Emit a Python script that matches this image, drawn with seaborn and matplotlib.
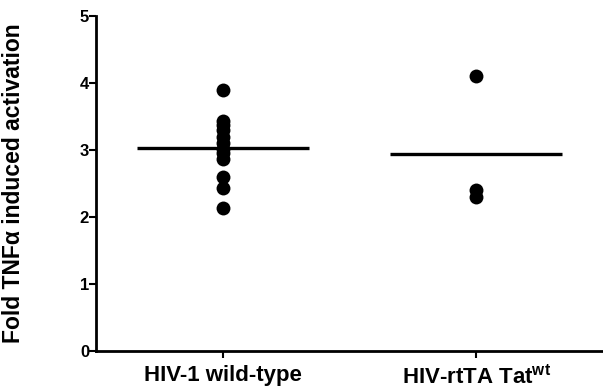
import matplotlib
matplotlib.use("Agg")
import matplotlib.pyplot as plt
import seaborn as sns
import pandas as pd
import numpy as np

categories = ["HIV-1 wild-type", "HIV-rtTA Tat$^{\\mathbf{wt}}$"]
wild_type = [3.90, 3.44, 3.38, 3.30, 3.20, 3.10, 3.02, 2.95, 2.87, 2.60, 2.44, 2.13]
rtta_tat = [4.10, 2.40, 2.30]
y_ticks = [0, 1, 2, 3, 4, 5]

sns.set_theme(style="ticks")
plt.rcParams["font.family"] = ["Liberation Sans", "DejaVu Sans"]
plt.rcParams["text.color"] = "black"
plt.rcParams["axes.labelcolor"] = "black"
plt.rcParams["xtick.color"] = "black"
plt.rcParams["ytick.color"] = "black"
plt.rcParams["mathtext.fontset"] = "custom"
plt.rcParams["mathtext.rm"] = "Liberation Sans"
plt.rcParams["mathtext.bf"] = "Liberation Sans:bold"
plt.rcParams["mathtext.it"] = "Liberation Sans:italic"

df = pd.DataFrame({
    "group": [categories[0]] * len(wild_type) + [categories[1]] * len(rtta_tat),
    "value": wild_type + rtta_tat,
})

fig = plt.figure(figsize=(6.03, 3.92), dpi=100)
ax = fig.add_axes([96 / 603, 41 / 392, 1 - 96 / 603, 335 / 392])

sns.stripplot(data=df, x="group", y="value", order=categories, jitter=False,
              color="black", size=10, linewidth=0, ax=ax)

means = df.groupby("group")["value"].mean().reindex(categories).values
idx = np.arange(len(categories))
ax.hlines(means, idx - 0.34, idx + 0.34, color="black", linewidth=2.4)

ax.set_xlim(-0.5, 1.5)
ax.set_ylim(0, 5)
ax.set_yticks(y_ticks)
ax.set_yticklabels([str(t) for t in y_ticks], fontsize=12, fontweight="bold", color="black")
ax.set_xticks(idx)
ax.set_xticklabels(categories, fontsize=16, fontweight="bold", color="black")
ax.set_xlabel("")
ax.set_ylabel("Fold TNF\u03b1 induced activation", fontsize=16.5, fontweight="bold",
              color="black")
ax.yaxis.set_label_coords(-0.14, 0.5)

for s in ["top", "right"]:
    ax.spines[s].set_visible(False)
for s in ["left", "bottom"]:
    ax.spines[s].set_linewidth(2)
    ax.spines[s].set_color("black")
ax.tick_params(axis="both", direction="out", length=5, width=1.5, color="black")
ax.tick_params(axis="y", pad=0)
ax.tick_params(axis="x", pad=5)

fig.savefig("out.png", dpi=100)
